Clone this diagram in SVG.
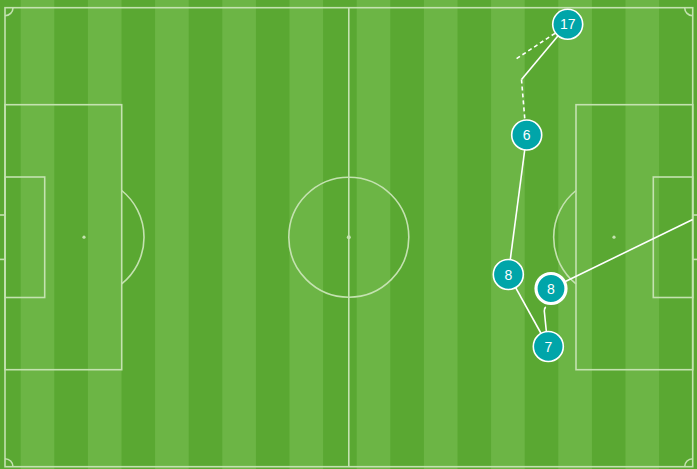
<svg xmlns="http://www.w3.org/2000/svg" width="697" height="469" viewBox="0 0 697 469">
<style>
.pl{fill:none;stroke:#c4e2b0;stroke-width:1.6}
.sp{fill:#c4e2b0}
.lk{fill:none;stroke:#ffffff;stroke-width:1.6}
.dash{stroke-dasharray:4 3}
.nd{fill:#00a5a9;stroke:#ffffff;stroke-width:1.6}
.hl{stroke-width:3.2}
.lb{fill:#ffffff;font-family:"Liberation Sans",Arial,sans-serif;font-size:14px;text-anchor:middle}
</style>
<g id="pitch">
<rect x="0" y="0" width="697" height="469" fill="#5aa832"/>
<g fill="#6cb545">
<rect x="20.7" y="0" width="33.6" height="469"/>
<rect x="87.9" y="0" width="33.6" height="469"/>
<rect x="155.1" y="0" width="33.6" height="469"/>
<rect x="222.3" y="0" width="33.6" height="469"/>
<rect x="289.5" y="0" width="33.6" height="469"/>
<rect x="356.7" y="0" width="33.6" height="469"/>
<rect x="423.9" y="0" width="33.6" height="469"/>
<rect x="491.1" y="0" width="33.6" height="469"/>
<rect x="558.3" y="0" width="33.6" height="469"/>
<rect x="625.5" y="0" width="33.6" height="469"/>
</g>
<rect class="pl" x="5" y="7.7" width="687.7" height="459"/>
<line class="pl" x1="348.8" y1="7.7" x2="348.8" y2="466.7"/>
<circle class="pl" cx="348.8" cy="237.2" r="60"/>
<circle class="sp" cx="348.8" cy="237.2" r="2"/>
<rect class="pl" x="5" y="104.7" width="116.7" height="265"/>
<rect class="pl" x="5" y="177" width="39.7" height="120.5"/>
<circle class="sp" cx="84" cy="237.2" r="1.6"/>
<path class="pl" d="M121.7,190.5 A60,60 0 0 1 121.7,283.9"/>
<rect class="pl" x="576" y="104.7" width="116.7" height="265"/>
<rect class="pl" x="653.3" y="177" width="39.4" height="120.5"/>
<circle class="sp" cx="614" cy="237.2" r="1.6"/>
<path class="pl" d="M576,190.5 A60,60 0 0 0 576,283.9"/>
<line class="pl" x1="0" y1="215" x2="5" y2="215"/>
<line class="pl" x1="0" y1="259.4" x2="5" y2="259.4"/>
<line class="pl" x1="692.7" y1="215" x2="697" y2="215"/>
<line class="pl" x1="692.7" y1="259.4" x2="697" y2="259.4"/>
<path class="pl" d="M13,7.7 A8,8 0 0 1 5,15.7"/>
<path class="pl" d="M5,458.7 A8,8 0 0 1 13,466.7"/>
<path class="pl" d="M684.7,7.7 A8,8 0 0 0 692.7,15.7"/>
<path class="pl" d="M692.7,458.7 A8,8 0 0 0 684.7,466.7"/>
</g>
<g id="connectors">
<line class="lk" x1="567.7" y1="24.3" x2="521.5" y2="79.5"/>
<line class="lk dash" x1="521.5" y1="79.5" x2="524.8" y2="119"/>
<line class="lk dash" x1="555" y1="33.3" x2="516" y2="59"/>
<line class="lk" x1="526.7" y1="135" x2="508.3" y2="274.5"/>
<line class="lk" x1="508.3" y1="274.5" x2="548.3" y2="346.5"/>
<path class="lk" d="M546.3,331 L544.3,311 Q544.3,308 545.8,307"/>
<line class="lk" x1="551" y1="288.5" x2="692.7" y2="219.5"/>
</g>
<g id="node-17"><circle class="nd" cx="567.7" cy="24.3" r="15"/><text class="lb" x="567.7" y="29.3">17</text></g>
<g id="node-6"><circle class="nd" cx="526.7" cy="135" r="15"/><text class="lb" x="526.7" y="140">6</text></g>
<g id="node-8a"><circle class="nd" cx="508.3" cy="274.5" r="15"/><text class="lb" x="508.3" y="279.5">8</text></g>
<g id="node-8b"><circle class="nd hl" cx="551" cy="288.5" r="15"/><text class="lb" x="551" y="293.5">8</text></g>
<g id="node-7"><circle class="nd" cx="548.3" cy="346.5" r="15"/><text class="lb" x="548.3" y="351.5">7</text></g>
</svg>
